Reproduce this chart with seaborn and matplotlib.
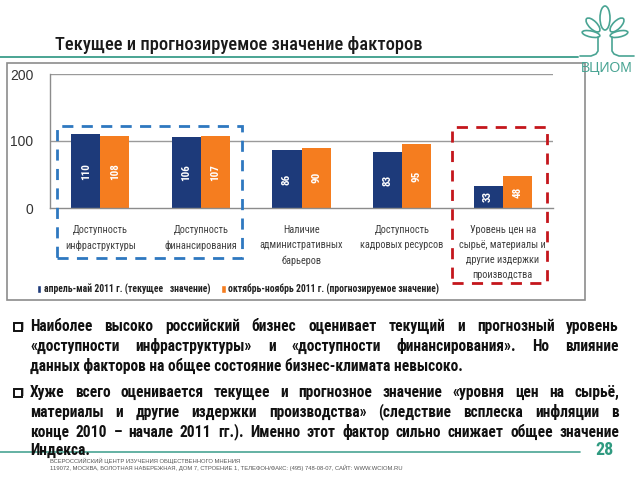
import matplotlib
matplotlib.use("Agg")
import matplotlib.pyplot as plt
from matplotlib import font_manager
from matplotlib.font_manager import FontProperties
from matplotlib.patches import Rectangle, Ellipse, Patch
from matplotlib.lines import Line2D
import seaborn as sns
import pandas as pd

# ---------------- data ----------------
factors = [
    "Доступность\nинфраструктуры",
    "Доступность\nфинансирования",
    "Наличие\nадминистративных\nбарьеров",
    "Доступность\nкадровых ресурсов",
    "Уровень цен на\nсырьё, материалы и\nдругие издержки\nпроизводства",
]
series_names = [
    "апрель-май 2011 г. (текущее   значение)",
    "октябрь-ноябрь 2011 г. (прогнозируемое значение)",
]
current_values = [110, 106, 86, 83, 33]
forecast_values = [108, 107, 90, 95, 48]
y_ticks = [0, 100, 200]

title_text = "Текущее и прогнозируемое значение факторов"
para1 = [
    "Наиболее высоко российский бизнес оценивает текущий и прогнозный уровень",
    "«доступности инфраструктуры» и «доступности финансирования». Но влияние",
    "данных факторов на общее состояние бизнес-климата невысоко.",
]
para2 = [
    "Хуже всего оценивается текущее и прогнозное значение «уровня цен на сырьё,",
    "материалы и другие издержки производства» (следствие всплеска инфляции в",
    "конце 2010 – начале 2011 гг.). Именно этот фактор сильно снижает общее значение",
    "Индекса.",
]
footer1 = "ВСЕРОССИЙСКИЙ ЦЕНТР ИЗУЧЕНИЯ ОБЩЕСТВЕННОГО МНЕНИЯ"
footer2 = "119072, МОСКВА, БОЛОТНАЯ НАБЕРЕЖНАЯ, ДОМ 7, СТРОЕНИЕ 1, ТЕЛЕФОН/ФАКС: (495) 748-08-07, САЙТ: WWW.WCIOM.RU"
page_no = "28"
logo_text = "ВЦИОМ"

df = pd.DataFrame({
    "factor": factors * 2,
    "period": [series_names[0]] * len(factors) + [series_names[1]] * len(factors),
    "value": current_values + forecast_values,
})

# ---------------- style ----------------
sns.set_style("white")
installed = {f.name for f in font_manager.fontManager.ttflist}
narrow_pick = next((f for f in ["Liberation Sans Narrow", "Roboto Condensed",
                                "Open Sans Condensed", "Roboto", "Liberation Sans"]
                    if f in installed), "DejaVu Sans")
NARROW = [narrow_pick, "DejaVu Sans"]
plt.rcParams["font.family"] = NARROW

NAVY = "#1d3a7a"
ORANGE = "#f57d1f"
TEAL = "#49a493"
GRAY_TXT = "#404040"

W, H = 640, 480
fig = plt.figure(figsize=(6.4, 4.8), dpi=100)
renderer = fig.canvas.get_renderer()


def fx(px):
    return px / W


def fy(py):
    return 1 - py / H


def fit_size(lines, base, maxw, **kw):
    t = fig.text(0, 0, "", fontsize=base, **kw)
    widest = 0
    for ln in lines:
        t.set_text(ln)
        widest = max(widest, t.get_window_extent(renderer).width)
    t.remove()
    return base * min(1.0, maxw / widest)


# ---------------- header ----------------
fig.text(fx(55), fy(50), title_text,
         fontsize=fit_size([title_text], 15, 368, family=NARROW, weight="medium"),
         color="#1a1a1a", va="baseline", ha="left", family=NARROW, weight="medium")
fig.add_artist(Line2D([fx(0), fx(578)], [fy(57), fy(57)], color=TEAL, lw=1.4))

# logo
lax = fig.add_axes([fx(572), fy(62), fx(68), 62 / H])
lax.set_xlim(572, 640)
lax.set_ylim(62, 0)
lax.axis("off")
leaf_kw = dict(fill=False, edgecolor=TEAL, lw=1.2)
lax.add_patch(Ellipse((605, 18), 10, 24, angle=0, **leaf_kw))
lax.add_patch(Ellipse((593, 25), 8, 18, angle=-45, **leaf_kw))
lax.add_patch(Ellipse((617, 25), 8, 18, angle=45, **leaf_kw))
lax.add_patch(Ellipse((591, 34), 18, 6, angle=12, **leaf_kw))
lax.add_patch(Ellipse((619, 34), 18, 6, angle=-12, **leaf_kw))
lax.plot([598, 598, 596, 591, 580], [37, 51, 54, 56, 56], color=TEAL, lw=1.2)
lax.plot([612, 612, 614, 619, 634], [37, 51, 54, 56, 56], color=TEAL, lw=1.2)
fig.text(fx(607), fy(68), logo_text, fontsize=10, color=TEAL, ha="center",
         va="center", family=["Liberation Sans", "DejaVu Sans"])

# chart frame
fig.add_artist(Rectangle((fx(7), fy(300)), fx(578), 237 / H, transform=fig.transFigure,
                         fill=False, edgecolor="#8c8c8c", lw=1.2))

# ---------------- chart ----------------
ax = fig.add_axes([fx(50), fy(208), fx(503), 134 / H])
sns.barplot(data=df, x="factor", y="value", hue="period", order=factors,
            hue_order=series_names, palette=[NAVY, ORANGE], saturation=1,
            width=0.58, ax=ax, legend=False, edgecolor="none")
ax.set_ylim(0, 200)
ax.set_xlim(-0.5, len(factors) - 0.5)
ax.set_yticks(y_ticks)
ax.set_yticklabels([str(v) for v in y_ticks], fontsize=10, color="#333333",
                   family=["Liberation Sans", "DejaVu Sans"])
cat_size = fit_size([ln for f in factors for ln in f.split("\n")], 8.5, 86)
ax.set_xticks(range(len(factors)))
ax.set_xticklabels(factors, fontsize=cat_size, color=GRAY_TXT, linespacing=1.65)
ax.set_xticks([i - 0.5 for i in range(len(factors) + 1)], minor=True)
ax.tick_params(axis="x", which="major", length=0, pad=12)
ax.tick_params(axis="x", which="minor", length=5, color="#8c8c8c", direction="out")
ax.tick_params(axis="y", length=4, color="#8c8c8c", direction="out", pad=8)
ax.set_xlabel("")
ax.set_ylabel("")
for v in y_ticks[1:]:
    ax.axhline(v, color="#9a9a9a", lw=1, zorder=0)
for s in ["top", "right"]:
    ax.spines[s].set_visible(False)
for s in ["left", "bottom"]:
    ax.spines[s].set_color("#8c8c8c")
    ax.spines[s].set_linewidth(1)
for cont in ax.containers:
    ax.bar_label(cont, label_type="center", rotation=90, color="white",
                 fontsize=8, fontweight="bold")

# legend
leg_size = fit_size([series_names[1]], 8.5, 210, family=NARROW, weight="bold")
handles = [Patch(facecolor=NAVY), Patch(facecolor=ORANGE)]
leg = ax.legend(handles, series_names, ncol=2, loc="center left",
                bbox_to_anchor=(fx(33), fy(289)), bbox_transform=fig.transFigure,
                frameon=False, handlelength=0.45, handleheight=0.9,
                handletextpad=0.3, columnspacing=1.1, borderaxespad=0,
                prop={"family": NARROW, "size": leg_size, "weight": "bold"})
for t in leg.get_texts():
    t.set_color("#222222")

# dashed highlight boxes
fig.add_artist(Rectangle((fx(57), fy(258)), fx(185), 132 / H, transform=fig.transFigure,
                         fill=False, edgecolor="#2e78c0", lw=2, linestyle=(0, (4, 3))))
fig.add_artist(Rectangle((fx(452), fy(283)), fx(95), 156 / H, transform=fig.transFigure,
                         fill=False, edgecolor="#c4161c", lw=2, linestyle=(0, (4, 3))))

# ---------------- body text (justified word by word) ----------------
LEFT, RIGHT = 30, 619
body_lines = para1[:-1] + para2[:-2]
body_size = fit_size(body_lines, 11.2, (RIGHT - LEFT) * 0.97, family=NARROW, weight="bold")
TXT_KW = dict(fontsize=body_size, color="#111111", family=NARROW, weight="bold",
              va="baseline")
BASE_OFF = 5
body_prop = FontProperties(family=NARROW, weight="bold", size=body_size)
_, LP_H, LP_D = renderer.get_text_width_height_descent("lp", body_prop, ismath=False)


def word_shift(word):
    # compensate the baseline offset of words that descend deeper than "lp"
    _, h_w, d_w = renderer.get_text_width_height_descent(word, body_prop, ismath=False)
    return max(d_w, LP_D) - LP_D


def draw_line(line, y, justify):
    yb = fy(y + BASE_OFF)
    if not justify:
        fig.text(fx(LEFT), yb, line, ha="left", **TXT_KW)
        return
    words = line.split(" ")
    arts = [fig.text(0, yb + word_shift(w) / H, w, ha="left", **TXT_KW) for w in words]
    widths = [a.get_window_extent(renderer).width for a in arts]
    gap = (RIGHT - LEFT - sum(widths)) / max(len(words) - 1, 1)
    x = LEFT
    for a, w in zip(arts, widths):
        a.set_x(fx(x))
        x += w + gap


def bullet(y):
    fig.add_artist(Rectangle((fx(15.5), fy(y + 3.5)), fx(8), 8 / H, transform=fig.transFigure,
                             facecolor="#b0b0b0", edgecolor="none"))
    fig.add_artist(Rectangle((fx(14), fy(y + 4.5)), fx(8), 8 / H, transform=fig.transFigure,
                             facecolor="white", edgecolor="#111111", lw=1.4))


p1_y = [326, 346, 366]
p2_y = [392, 412, 432, 450]
bullet(p1_y[0])
bullet(p2_y[0])
for i, (ln, y) in enumerate(zip(para1, p1_y)):
    draw_line(ln, y, i < len(para1) - 1)
for i, (ln, y) in enumerate(zip(para2, p2_y)):
    draw_line(ln, y, i < len(para2) - 1)

# ---------------- footer ----------------
fig.add_artist(Line2D([fx(0), fx(580)], [fy(452), fy(452)], color=TEAL, lw=1.2))
fig.text(fx(605), fy(450), page_no, fontsize=13, color="#2f9a80", ha="center",
         va="center", weight="bold")
ft_size = fit_size([footer2], 4.5, 355, family=["Liberation Sans", "DejaVu Sans"])
fig.text(fx(50), fy(461), footer1, fontsize=ft_size, color="#555555", ha="left",
         va="center", family=["Liberation Sans", "DejaVu Sans"])
fig.text(fx(50), fy(468), footer2, fontsize=ft_size, color="#555555", ha="left",
         va="center", family=["Liberation Sans", "DejaVu Sans"])

fig.savefig("out.png", dpi=100)
